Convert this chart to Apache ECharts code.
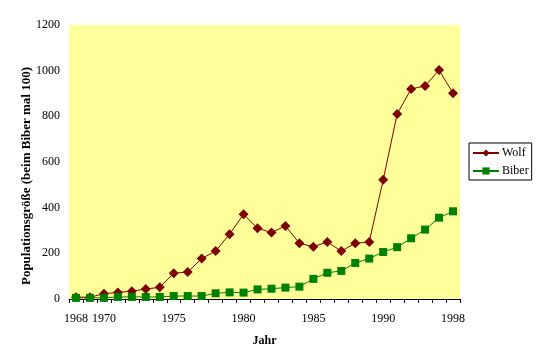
<!DOCTYPE html>
<html><head><meta charset="utf-8">
<script src="https://cdn.jsdelivr.net/npm/echarts@6/dist/echarts.min.js"></script>
<style>html,body{margin:0;padding:0;background:#fff}#c{width:541px;height:363px}</style>
</head><body><div id="c"></div>
<script>
const years = [1968,1969,1970,1971,1972,1973,1974,1975,1976,1977,1978,1979,1980,1981,1982,1983,1984,1985,1986,1987,1988,1989,1990,1991,1992,1993,1994,1995];
const tickLabels = {1968:'1968',1970:'1970',1975:'1975',1980:'1980',1985:'1985',1990:'1990',1995:'1998'};
const wolf = [8,8,23,29,34,44,51,113,118,177,210,284,371,310,291,320,244,229,250,210,244,250,522,810,920,933,1003,901];
const biber = [5,5,5,9,9,9,9,13,13,13,25,29,28,42,45,50,54,88,115,123,158,177,206,227,266,304,356,384];
const yTicks = [0,200,400,600,800,1000,1200];

const font = '"Liberation Serif","Times New Roman",serif';
const chart = echarts.init(document.getElementById('c'), null, {renderer:'canvas'});
chart.setOption({
  animation:false,
  backgroundColor:'#fff',
  textStyle:{fontFamily:font},
  grid:{left:69,right:81,top:25,bottom:64,show:true,backgroundColor:'#FFFF99',borderWidth:0},
  legend:{
    orient:'vertical', left:469, top:143, width:62,
    borderColor:'#000', borderWidth:1, padding:[4,3,3,3], itemGap:6,
    itemWidth:26, itemHeight:9,
    textStyle:{fontFamily:font,fontSize:12,color:'#000',padding:[0,0,0,-2]},
    data:['Wolf','Biber']
  },
  xAxis:{
    type:'category', data:years.map(String), boundaryGap:true,
    name:'Jahr', nameLocation:'middle', nameGap:36,
    nameTextStyle:{fontFamily:font,fontSize:12,fontWeight:'bold',color:'#000'},
    axisLine:{lineStyle:{color:'#000',width:1}},
    axisTick:{show:true,interval:0,length:4,lineStyle:{color:'#000'}},
    axisLabel:{interval:0,margin:14,fontFamily:font,fontSize:12,color:'#000',
      formatter:(v)=>tickLabels[v]||''},
    splitLine:{show:false}
  },
  yAxis:{
    type:'value', min:yTicks[0], max:yTicks[yTicks.length-1], interval:200,
    axisLine:{show:false}, axisTick:{show:false},
    axisLabel:{margin:9,fontFamily:font,fontSize:12,color:'#000',formatter:(v)=>String(v)},
    splitLine:{show:false}
  },
  graphic:[{
    type:'text', x:27, y:176, rotation:Math.PI/2,
    style:{text:'Populationsgröße (beim Biber mal 100)', font:'bold 13px '+font, fill:'#000',
      textAlign:'center', textVerticalAlign:'middle'}
  }],
  series:[
    {name:'Wolf', type:'line', data:wolf, symbol:'diamond', symbolSize:10,
     lineStyle:{color:'#800000',width:1}, itemStyle:{color:'#800000'}},
    {name:'Biber', type:'line', data:biber, symbol:'rect', symbolSize:8,
     lineStyle:{color:'#008000',width:1}, itemStyle:{color:'#008000'}}
  ]
});
</script></body></html>
